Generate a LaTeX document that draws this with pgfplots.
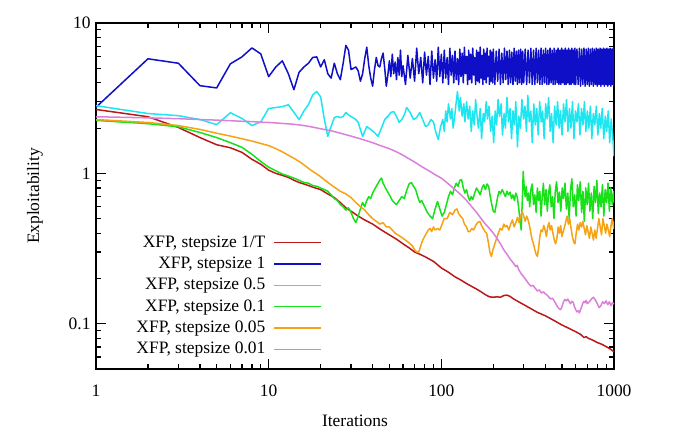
\documentclass[border=0pt]{standalone}
\usepackage{pgfplots}
\pgfplotsset{compat=1.18}
\usepackage{fontspec}
\setmainfont{Liberation Serif}
\definecolor{cred}{RGB}{185,25,25}
\definecolor{cblue}{RGB}{15,15,200}
\definecolor{ccyan}{RGB}{30,230,240}
\definecolor{cgreen}{RGB}{25,225,25}
\definecolor{corange}{RGB}{245,163,20}
\definecolor{cpink}{RGB}{218,128,218}
\begin{document}
\begin{tikzpicture}[font=\fontsize{17.5}{21}\selectfont]
\begin{axis}[
  at={(96bp,67bp)}, anchor=south west,
  width=518bp, height=346bp, scale only axis,
  xmode=log, ymode=log,
  xmin=1, xmax=1000, ymin=0.05, ymax=10,
  xtick={1,10,100,1000}, xticklabels={1,10,100,1000},
  ytick={0.1,1,10}, yticklabels={0.1,1,10},
  minor xtick={2,3,4,5,6,7,8,9,20,30,40,50,60,70,80,90,200,300,400,500,600,700,800,900},
  minor ytick={0.06,0.07,0.08,0.09,0.2,0.3,0.4,0.5,0.6,0.7,0.8,0.9,2,3,4,5,6,7,8,9},
  tick align=inside,
  major tick length=10bp, minor tick length=5bp,
  axis line style={line width=1.8bp},
  every tick/.style={black, line width=1.2bp},
  xticklabel style={yshift=-12bp},
  yticklabel style={xshift=-2bp},
  xlabel={Iterations}, ylabel={Exploitability},
  xlabel style={at={(axis description cs:0.5,-0.150)}, anchor=center},
  ylabel style={at={(axis description cs:-0.118,0.5)}, anchor=center},
  legend plot pos=right,
  legend cell align=right,
  legend style={draw=none, fill=none, at={(axis description cs:0.442,0.211)}, anchor=east,
    nodes={inner sep=0bp, text height=13bp, text depth=4bp}, row sep=4.3bp},
  legend image code/.code={\path (0bp,0bp); \draw[#1, line width=1.4bp] (8bp,0bp) -- (55bp,0bp);},
  every axis plot/.append style={line width=1.5bp, line join=round, no markers},
]
% stepsize 1/T
\addplot[cred] table {
1 2.66
2 2.38
3 2.02
4 1.73
5 1.55
6 1.48
7 1.38
8 1.24
9 1.15
10 1.05
11 1.00
12 0.97
13 0.94
14 0.90
15 0.87
16 0.85
17 0.83
18 0.81
20 0.78
22 0.73
24 0.69
26 0.64
28 0.59
30 0.56
33 0.52
36 0.49
40 0.46
45 0.42
50 0.39
55 0.365
60 0.34
65 0.32
70 0.30
75 0.29
80 0.28
90 0.26
100 0.235
110 0.22
120 0.205
130 0.195
140 0.185
150 0.177
160 0.170
170 0.163
180 0.156
190 0.151
200 0.150
210 0.151
220 0.150
230 0.154
240 0.155
250 0.152
260 0.147
280 0.140
300 0.134
330 0.126
360 0.119
400 0.113
450 0.105
500 0.098
550 0.093
600 0.0885
640 0.085
670 0.081
690 0.082
710 0.080
750 0.078
800 0.075
850 0.073
900 0.0705
950 0.068
1000 0.065
};
\addlegendentry{XFP, stepsize 1/T}
% stepsize 1
\addplot[cblue] table {
1 2.75
2 5.78
3 5.40
4 3.83
5 3.70
6 5.35
7 5.95
8 6.83
9 6.23
10 4.40
11 5.10
12 5.60
13 4.60
14 3.60
15 4.70
16 5.10
17 5.40
18 5.90
19 5.95
20 5.10
21 5.70
22 4.60
23 4.30
24 5.40
25 4.60
26 4.20
27 5.40
28 7.10
29 6.60
30 4.90
31 5.0
32 5.1
33 4.8
34 4.1
35 4.6
36 5.8
37 6.9
38 5.2
39 4.3
40 3.8
41 4.9
42 5.9
43 5.2
44 5.1
45 5.8
46 6.3
47 5.0
48 3.8
49 4.5
50 5.6
51 4.4
52 6.2
53 4.6
54 5.5
55 4.2
56 5.9
57 4.5
58 6.6
59 4.4
60 5.2
62 3.9
64 6.1
66 4.3
68 5.8
70 4.1
72 6.8
74 4.6
76 5.9
78 4.0
80 6.4
82 4.5
84 6.0
86 3.9
88 6.5
90 4.3
92 5.7
94 4.1
96 6.9
98 4.4
100 6.2
102 4.0
104 6.6
106 4.3
108 5.9
110 3.9
112 6.8
114 4.5
116 6.1
118 4.0
120 6.5
122 4.2
124 5.8
126 3.9
128 6.7
130 4.4
132 6.3
134 4.0
136 6.9
138 4.6
140 6.0
142 3.9
144 6.6
146 4.2
148 6.2
150 4.0
152 6.8
154 4.5
156 5.9
158 3.9
160 6.6
162 4.1
164 6.4
166 4.0
168 6.9
170 4.3
172 6.1
174 3.9
176 6.7
178 4.2
180 6.3
182 4.0
184 6.8
186 4.4
188 6.0
190 3.9
192 6.6
194 4.1
196 6.4
198 4.0
200 6.7
204 3.9
208 6.5
212 4.1
216 6.7
220 3.9
224 6.3
228 4.0
232 6.8
236 4.2
240 6.5
244 3.9
248 6.6
252 4.0
256 6.4
260 3.9
264 6.8
268 4.1
272 6.5
276 3.9
280 6.6
284 4.0
288 6.7
292 3.9
296 6.5
300 4.0
306 6.7
312 3.9
318 6.6
324 4.0
330 6.8
336 3.9
342 6.6
348 3.9
354 6.8
360 4.0
366 6.6
372 3.9
378 6.8
384 3.9
390 6.6
396 4.0
402 6.8
408 3.9
414 6.6
420 3.9
426 6.8
432 4.0
438 6.6
444 3.9
450 6.8
456 3.9
462 6.6
468 4.0
474 6.8
480 3.9
486 6.6
492 3.9
498 6.8
504 4.0
510 6.6
516 3.9
522 6.8
528 3.9
534 6.6
540 4.0
546 6.8
552 3.9
558 6.6
564 3.9
570 6.8
576 4.0
582 6.6
588 3.9
594 6.8
600 3.9
610 6.7
620 3.9
630 6.8
640 3.8
650 6.7
660 3.9
670 6.8
680 3.8
690 6.7
700 3.9
710 6.8
720 3.8
730 6.7
740 3.9
750 6.8
760 3.8
770 6.7
780 3.9
790 6.8
800 3.8
810 6.7
820 3.9
830 6.8
840 3.8
850 6.7
860 3.9
870 6.8
880 3.8
890 6.7
900 3.9
910 6.8
920 3.8
930 6.7
940 3.9
950 6.8
960 3.8
970 6.7
980 3.9
990 6.8
1000 3.8
};
\addlegendentry{XFP, stepsize 1}
% stepsize 0.5
\addplot[ccyan] table {
1 2.82
2 2.50
3 2.42
4 2.28
5 2.11
6 2.53
7 2.32
8 2.08
9 2.20
10 2.70
11 2.74
12 2.78
13 2.86
14 2.55
15 2.28
16 2.60
17 2.86
18 3.33
19 3.50
20 3.23
21 2.30
22 1.76
23 2.05
24 2.35
25 2.39
26 2.35
27 2.39
28 2.54
29 2.45
30 2.39
32 2.28
33 2.18
35 1.76
37 2.05
39 1.96
41 1.87
43 1.76
45 2.00
47 2.28
49 2.39
51 2.54
53 2.58
55 2.39
57 2.18
59 2.28
61 2.45
63 2.74
66 2.54
69 2.28
72 2.35
75 2.54
78 2.28
81 2.05
84 2.10
87 2.28
90 2.20
93 1.87
96 1.68
99 2.05
102 2.28
104 1.90
106 2.6
108 2.2
110 2.9
113 2.3
115 2.7
117 2.0
120 2.5
122 3.0
124 3.5
127 2.6
129 3.2
132 2.4
135 2.9
137 2.2
140 3.0
143 2.3
146 2.8
149 1.9
152 2.6
155 2.1
158 3.1
161 2.4
164 2.0
168 2.7
171 1.7
175 2.5
178 2.2
182 3.0
185 2.3
189 2.8
193 1.9
197 2.4
201 1.6
205 2.6
209 2.1
213 3.1
217 2.4
222 2.9
226 1.8
231 2.5
235 2.0
240 3.2
245 2.2
250 2.7
255 1.7
260 2.6
265 2.1
270 3.0
276 1.5
281 2.4
287 2.0
293 3.1
299 2.3
305 2.8
311 1.9
317 3.3
323 2.2
330 2.6
336 1.6
343 2.9
350 2.1
357 2.7
364 1.8
371 3.0
379 2.2
386 2.6
394 1.7
402 2.9
410 2.3
418 3.2
427 1.9
435 2.5
444 1.6
453 2.8
462 2.1
471 3.0
481 2.0
490 2.6
500 1.8
510 2.9
520 2.2
531 3.1
541 1.9
552 2.7
563 2.0
575 3.0
586 1.7
598 2.6
610 2.2
622 2.9
635 1.8
648 2.7
661 2.1
674 3.0
687 1.9
701 2.6
715 2.0
730 2.8
744 1.7
759 2.5
774 2.1
790 2.8
806 1.8
822 2.5
838 2.0
855 2.7
872 1.7
890 2.4
907 1.9
926 2.6
944 1.6
963 2.3
982 1.8
1000 1.3
};
\addlegendentry{XFP, stepsize 0.5}
% stepsize 0.1
\addplot[cgreen] table {
1 2.25
2 2.14
3 2.04
4 1.87
5 1.73
6 1.60
7 1.49
8 1.34
9 1.20
10 1.10
11 1.04
12 0.99
13 0.96
14 0.93
15 0.90
16 0.87
17 0.86
18 0.83
19 0.82
20 0.80
21 0.78
22 0.76
23 0.72
24 0.68
25 0.66
26 0.62
27 0.60
28 0.57
29 0.59
30 0.55
31 0.50
32 0.47
33 0.52
34 0.58
35 0.64
36 0.60
37 0.66
38 0.70
39 0.68
40 0.74
42 0.82
44 0.90
45 0.93
46 0.86
48 0.78
50 0.72
52 0.66
54 0.63
55 0.62
57 0.66
59 0.70
61 0.68
63 0.77
65 0.85
67 0.87
69 0.82
71 0.78
73 0.70
75 0.64
77 0.66
80 0.60
83 0.55
86 0.52
89 0.50
92 0.58
95 0.65
98 0.58
101 0.52
104 0.55
107 0.62
110 0.70
113 0.76
116 0.72
119 0.80
122 0.86
125 0.82
128 0.90
131 0.91
134 0.80
137 0.74
140 0.78
143 0.70
146 0.66
149 0.70
152 0.67
156 0.74
160 0.80
164 0.76
168 0.72
172 0.80
176 0.84
180 0.78
184 0.85
188 0.82
192 0.70
196 0.62
200 0.56
204 0.55
208 0.62
212 0.70
216 0.76
220 0.73
225 0.78
230 0.74
235 0.70
240 0.76
245 0.72
250 0.75
255 0.68
260 0.72
265 0.66
270 0.74
275 0.70
280 0.60
285 0.50
290 0.42
295 0.70
298 1.03
302 0.80
306 0.70
310 0.82
315 0.66
320 0.74
325 0.60
330 0.78
336 0.85
342 0.62
348 0.72
354 0.55
360 0.80
366 0.66
372 0.76
378 0.52
384 0.70
390 0.86
397 0.62
404 0.78
411 0.56
418 0.74
425 0.84
433 0.60
441 0.70
449 0.50
457 0.76
465 0.88
474 0.64
483 0.75
492 0.56
501 0.80
510 0.68
520 0.86
530 0.58
540 0.74
550 0.50
560 0.78
570 0.92
581 0.60
592 0.72
603 0.52
614 0.84
625 0.66
637 0.88
649 0.55
661 0.76
673 0.48
686 0.80
699 0.62
712 0.86
725 0.56
739 0.74
753 0.50
767 0.82
781 0.64
796 0.90
811 0.54
826 0.74
841 0.60
857 0.84
873 0.52
889 0.78
906 0.64
923 0.86
940 0.56
958 0.80
976 0.62
994 0.76
1000 0.64
};
\addlegendentry{XFP, stepsize 0.1}
% stepsize 0.05
\addplot[corange] table {
1 2.28
2 2.18
3 2.08
4 1.96
5 1.85
6 1.77
7 1.70
8 1.64
9 1.58
10 1.53
11 1.46
12 1.39
13 1.32
14 1.26
15 1.20
16 1.14
17 1.08
18 1.03
19 0.99
20 0.95
22 0.87
24 0.81
26 0.76
28 0.73
30 0.69
32 0.64
34 0.60
36 0.57
38 0.53
40 0.50
42 0.48
44 0.46
46 0.47
48 0.44
50 0.44
52 0.42
54 0.40
56 0.39
58 0.38
60 0.37
62 0.36
64 0.35
66 0.34
68 0.33
70 0.31
72 0.30
74 0.30
76 0.33
78 0.36
80 0.38
82 0.40
84 0.42
86 0.43
88 0.41
90 0.44
92 0.42
95 0.43
98 0.42
101 0.46
104 0.50
108 0.50
112 0.55
116 0.53
120 0.57
123 0.58
126 0.54
129 0.52
133 0.50
136 0.46
140 0.44
143 0.41
146 0.41
150 0.43
154 0.42
158 0.45
162 0.47
167 0.48
171 0.45
175 0.43
179 0.41
183 0.40
187 0.35
191 0.30
195 0.28
199 0.31
204 0.34
209 0.37
214 0.40
219 0.43
225 0.42
230 0.46
235 0.44
240 0.45
246 0.42
252 0.46
258 0.49
264 0.44
270 0.47
276 0.51
282 0.47
288 0.52
294 0.56
300 0.52
306 0.48
312 0.52
318 0.49
324 0.45
330 0.40
336 0.36
342 0.34
348 0.31
354 0.29
360 0.28
366 0.32
372 0.38
378 0.42
385 0.41
392 0.45
399 0.42
406 0.38
413 0.44
420 0.47
427 0.42
435 0.45
443 0.40
451 0.36
459 0.34
467 0.37
475 0.44
483 0.40
491 0.45
499 0.38
508 0.41
517 0.44
526 0.48
535 0.52
544 0.46
554 0.50
564 0.43
574 0.38
584 0.35
594 0.34
604 0.40
615 0.46
626 0.42
637 0.47
648 0.44
660 0.48
672 0.43
684 0.39
696 0.45
708 0.41
721 0.37
734 0.44
747 0.40
760 0.36
774 0.42
788 0.37
802 0.43
817 0.50
832 0.44
847 0.39
862 0.50
878 0.45
894 0.40
910 0.46
927 0.42
944 0.38
961 0.45
978 0.50
995 0.43
1000 0.48
};
\addlegendentry{XFP, stepsize 0.05}
% stepsize 0.01
\addplot[cpink] table {
1 2.38
2 2.34
3 2.31
4 2.28
5 2.26
6 2.24
7 2.22
8 2.21
9 2.19
10 2.18
12 2.15
14 2.12
16 2.08
18 2.03
20 1.98
23 1.92
26 1.85
30 1.77
35 1.68
40 1.60
45 1.52
50 1.46
55 1.39
60 1.32
65 1.25
70 1.19
75 1.13
80 1.08
86 1.03
92 0.98
100 0.93
110 0.85
120 0.78
130 0.72
140 0.66
150 0.60
160 0.55
170 0.50
180 0.46
190 0.43
200 0.40
210 0.37
220 0.34
230 0.31
240 0.29
250 0.27
260 0.255
270 0.24
275 0.245
280 0.23
290 0.215
300 0.205
310 0.195
320 0.185
330 0.178
340 0.180
350 0.172
360 0.165
370 0.168
380 0.160
390 0.163
400 0.158
410 0.155
420 0.150
430 0.146
440 0.148
450 0.142
460 0.136
470 0.130
480 0.126
490 0.124
500 0.130
510 0.140
520 0.145
530 0.142
540 0.146
550 0.140
560 0.136
570 0.141
580 0.139
590 0.130
600 0.124
610 0.120
620 0.122
630 0.118
640 0.124
650 0.130
660 0.137
670 0.141
680 0.138
690 0.143
700 0.136
720 0.140
740 0.146
760 0.150
780 0.144
800 0.136
820 0.128
840 0.132
860 0.140
880 0.136
900 0.142
920 0.134
940 0.140
960 0.132
980 0.138
1000 0.135
};
\addlegendentry{XFP, stepsize 0.01}
\end{axis}
\pgfresetboundingbox
\useasboundingbox (0bp,0bp) rectangle (691bp,436bp);
\end{tikzpicture}
\end{document}
